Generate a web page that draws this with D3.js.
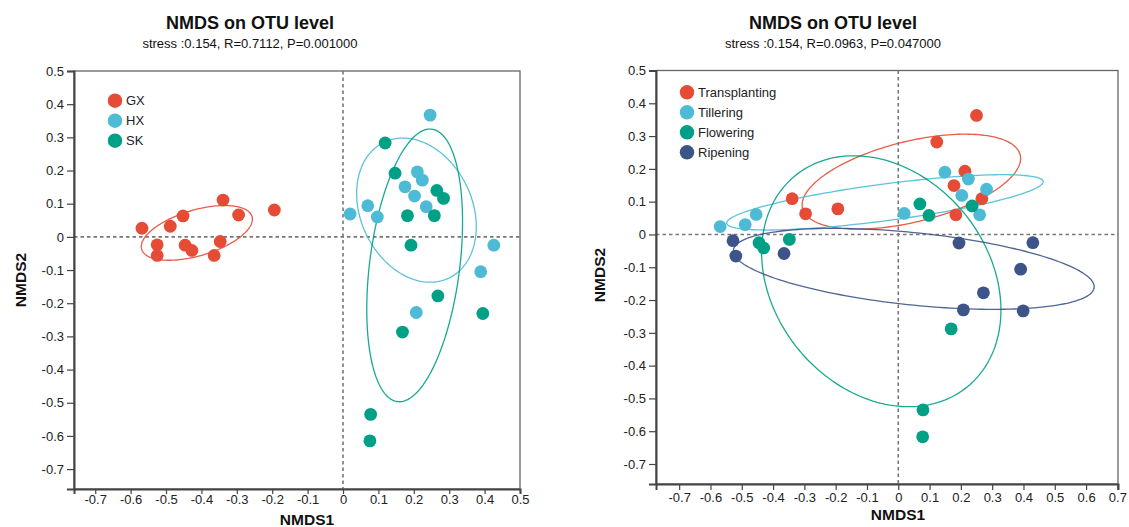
<!DOCTYPE html>
<html>
<head>
<meta charset="utf-8">
<script src="https://cdn.jsdelivr.net/npm/d3@7/dist/d3.min.js"></script>
<style>
  html, body { margin: 0; padding: 0; background: #fff; }
  svg { display: block; font-family: "Liberation Sans", Arial, sans-serif; }
</style>
</head>
<body>
<svg id="chart" width="1129" height="527"></svg>
<script>
// ---- Panel A: sites ----
const siteNames = ["GX", "HX", "SK"];
const gxPoints = [[-0.568,0.026],[-0.488,0.032],[-0.452,0.063],[-0.339,0.111],[-0.295,0.066],[-0.194,0.081],
                  [-0.525,-0.024],[-0.525,-0.056],[-0.446,-0.025],[-0.427,-0.041],[-0.364,-0.056],[-0.347,-0.014]];
const hxPoints = [[0.020,0.069],[0.070,0.094],[0.097,0.060],[0.246,0.367],[0.210,0.196],[0.224,0.171],
                  [0.175,0.151],[0.202,0.123],[0.235,0.091],[0.426,-0.025],[0.389,-0.105],[0.207,-0.228]];
const skPoints = [[0.119,0.283],[0.147,0.192],[0.265,0.140],[0.284,0.116],[0.182,0.064],[0.258,0.064],
                  [0.192,-0.025],[0.268,-0.178],[0.395,-0.231],[0.168,-0.287],[0.078,-0.535],[0.076,-0.615]];
// ellipse: [centre x, centre y, half-width, half-height, cos of phase shift]
const siteEllipses = [[-0.413,0.012,0.157,0.0825,0.5],[0.2075,0.0806,0.169,0.2173,-0.23],[0.2024,-0.086,0.1353,0.411,0.32]];
const siteStats = "stress :0.154, R=0.7112, P=0.001000";

// ---- Panel B: growth stages ----
const stageNames = ["Transplanting", "Tillering", "Flowering", "Ripening"];
const transplantingPoints = [[-0.339,0.109],[-0.296,0.063],[-0.193,0.078],[0.250,0.363],[0.123,0.282],[0.213,0.193],[0.178,0.149],[0.267,0.109],[0.184,0.060]];
const tilleringPoints = [[-0.569,0.024],[-0.489,0.030],[-0.454,0.061],[0.149,0.190],[0.224,0.169],[0.282,0.138],[0.203,0.119],[0.019,0.064],[0.260,0.060]];
const floweringPoints = [[-0.445,-0.025],[-0.430,-0.041],[-0.348,-0.015],[0.069,0.093],[0.098,0.058],[0.236,0.087],[0.169,-0.288],[0.079,-0.535],[0.078,-0.617]];
const ripeningPoints = [[-0.528,-0.019],[-0.519,-0.066],[-0.365,-0.058],[0.194,-0.026],[0.430,-0.025],[0.391,-0.106],[0.272,-0.178],[0.208,-0.230],[0.399,-0.233]];
const stageEllipses = [[0.0418,0.161,0.349,0.1448,0.49],[-0.0425,0.0979,0.5056,0.0844,0.744],[-0.0543,-0.1427,0.3823,0.3826,-0.23],[0.0495,-0.1049,0.5765,0.1235,-0.442]];
const stageStats = "stress :0.154, R=0.0963, P=0.047000";

const palette = ["#E64B35", "#4DBBD5", "#00A087", "#3C5488"];
const yTicks = [0.5,0.4,0.3,0.2,0.1,0,-0.1,-0.2,-0.3,-0.4,-0.5,-0.6,-0.7];
const xTicksA = [-0.7,-0.6,-0.5,-0.4,-0.3,-0.2,-0.1,0,0.1,0.2,0.3,0.4,0.5];
const xTicksB = [-0.7,-0.6,-0.5,-0.4,-0.3,-0.2,-0.1,0,0.1,0.2,0.3,0.4,0.5,0.6,0.7];

const fmt = d => d === 0 ? "0" : d.toFixed(1);
const svg = d3.select("#chart");

function panel(cfg) {
  const g = svg.append("g");
  const x = d3.scaleLinear().domain(cfg.xDomain).range([cfg.left, cfg.right]);
  const y = d3.scaleLinear().domain(cfg.yDomain).range([cfg.bottom, cfg.top]);

  // frame
  g.append("rect").attr("x", cfg.left).attr("y", cfg.top)
    .attr("width", cfg.right - cfg.left).attr("height", cfg.bottom - cfg.top)
    .attr("fill", "none").attr("stroke", "#666").attr("stroke-width", 1.3);

  // zero reference lines
  g.append("line").attr("x1", cfg.left).attr("x2", cfg.right).attr("y1", y(0)).attr("y2", y(0))
    .attr("stroke", "#777").attr("stroke-width", 1.6).attr("stroke-dasharray", "3.5,3");
  g.append("line").attr("y1", cfg.top).attr("y2", cfg.bottom).attr("x1", x(0)).attr("x2", x(0))
    .attr("stroke", "#777").attr("stroke-width", 1.6).attr("stroke-dasharray", "3.5,3");

  // axes
  const xAxis = g.append("g").attr("transform", `translate(0,${cfg.bottom})`)
    .call(d3.axisBottom(x).tickValues(cfg.xTicks).tickFormat(fmt).tickSize(cfg.xTickSize).tickPadding(cfg.xTickPad));
  const yAxis = g.append("g").attr("transform", `translate(${cfg.left},0)`)
    .call(d3.axisLeft(y).tickValues(yTicks).tickFormat(fmt).tickSize(7).tickPadding(3));
  [xAxis, yAxis].forEach(a => {
    a.select(".domain").attr("stroke", "#444").attr("stroke-width", 2);
    a.selectAll(".tick line").attr("stroke", "#444").attr("stroke-width", 1.2);
    a.selectAll(".tick text").attr("font-size", 13).attr("fill", "#222")
      .attr("font-family", "Liberation Sans, Arial, sans-serif");
  });

  // ellipses
  const line = d3.line().x(d => x(d[0])).y(d => y(d[1])).curve(d3.curveLinearClosed);
  cfg.ellipses.forEach((e, i) => {
    const [cx, cy, rx, ry, c] = e;
    const delta = Math.acos(c);
    const pts = d3.range(0, 360, 2).map(a => {
      const t = a * Math.PI / 180;
      return [cx + rx * Math.cos(t), cy + ry * Math.cos(t - delta)];
    });
    g.append("path").attr("d", line(pts)).attr("fill", "none")
      .attr("stroke", palette[i]).attr("stroke-width", 1.3).attr("opacity", 0.9);
  });

  // points
  cfg.groups.forEach((pts, i) => {
    g.append("g").selectAll("circle").data(pts).join("circle")
      .attr("cx", d => x(d[0])).attr("cy", d => y(d[1])).attr("r", 6.4)
      .attr("fill", palette[i]);
  });

  // legend
  const lg = g.append("g");
  cfg.names.forEach((n, i) => {
    const yy = cfg.legendY + i * 20;
    lg.append("circle").attr("cx", cfg.legendX).attr("cy", yy).attr("r", 7.2).attr("fill", palette[i]);
    lg.append("text").attr("x", cfg.legendX + 11).attr("y", yy + 4.5).attr("font-size", 13)
      .attr("fill", "#222").text(n);
  });

  // titles
  g.append("text").attr("x", cfg.titleX).attr("y", 29).attr("text-anchor", "middle")
    .attr("font-size", 18).attr("font-weight", "bold").attr("fill", "#111").text("NMDS on OTU level");
  g.append("text").attr("x", cfg.titleX).attr("y", 48).attr("text-anchor", "middle")
    .attr("font-size", 13).attr("fill", "#111").text(cfg.stats);
  g.append("text").attr("x", cfg.xLabelX).attr("y", cfg.xLabelY).attr("text-anchor", "middle")
    .attr("font-size", 15.5).attr("font-weight", "bold").attr("fill", "#111").text("NMDS1");
  g.append("text").attr("transform", `translate(${cfg.yLabelX},${cfg.yLabelY}) rotate(-90)`)
    .attr("text-anchor", "middle").attr("font-size", 15.5).attr("font-weight", "bold")
    .attr("fill", "#111").text("NMDS2");
}

panel({
  left: 74, right: 520, top: 71, bottom: 489,
  xDomain: [-0.76, 0.5], yDomain: [-0.76, 0.5], xTicks: xTicksA, xTickSize: 5, xTickPad: 1,
  groups: [gxPoints, hxPoints, skPoints], ellipses: siteEllipses, names: siteNames,
  legendX: 115, legendY: 100.7, titleX: 250, stats: siteStats,
  xLabelX: 307, xLabelY: 525, yLabelX: 26, yLabelY: 280
});

panel({
  left: 656, right: 1118, top: 70.5, bottom: 484,
  xDomain: [-0.774, 0.702], yDomain: [-0.761, 0.5], xTicks: xTicksB, xTickSize: 6, xTickPad: 3,
  groups: [transplantingPoints, tilleringPoints, floweringPoints, ripeningPoints],
  ellipses: stageEllipses, names: stageNames,
  legendX: 687, legendY: 92.3, titleX: 833, stats: stageStats,
  xLabelX: 898, xLabelY: 520, yLabelX: 605, yLabelY: 275
});
</script>
</body>
</html>
